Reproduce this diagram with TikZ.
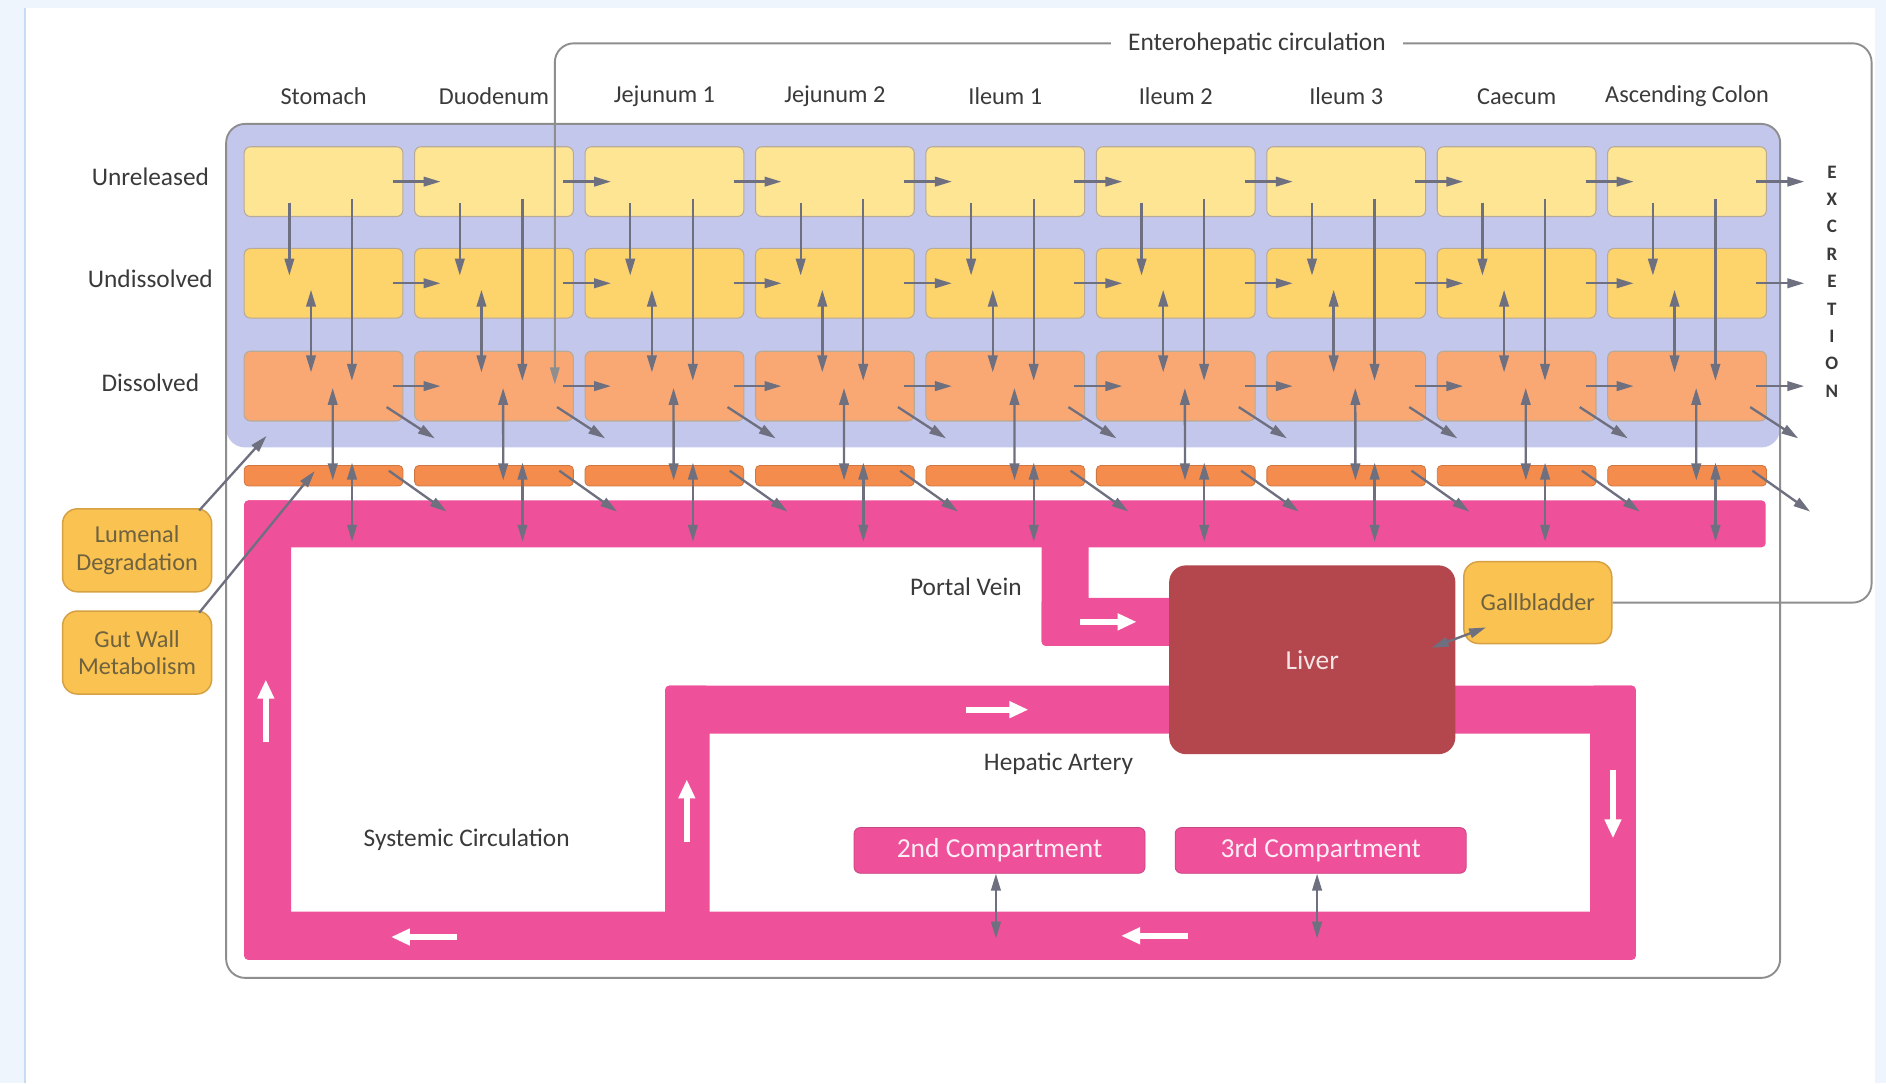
\documentclass[tikz,border=0pt]{standalone}
\usepackage{fontspec}
\setmainfont{Carlito}
\usetikzlibrary{arrows.meta, positioning, calc}
\definecolor{bgblue}{HTML}{EEF5FC}
\definecolor{edgeblue}{HTML}{C7DCF2}
\definecolor{lavender}{HTML}{C4C7EC}
\definecolor{unrel}{HTML}{FDE594}
\definecolor{undis}{HTML}{FDD36C}
\definecolor{dissol}{HTML}{F9A874}
\definecolor{gutw}{HTML}{F38C4C}
\definecolor{pinkc}{HTML}{EE519A}
\definecolor{liverc}{HTML}{B4474D}
\definecolor{goldc}{HTML}{FAC250}
\definecolor{goldline}{HTML}{D6A145}
\definecolor{boxline}{HTML}{B8AA98}
\definecolor{arrowgray}{HTML}{6E7080}
\definecolor{outline}{HTML}{8E8E8E}
\definecolor{txtgray}{HTML}{3A3A3A}
\definecolor{goldtext}{HTML}{6E6240}

\begin{document}
\begin{tikzpicture}[x=0.02cm, y=-0.02cm, font=\fontsize{12}{14}\selectfont, text=txtgray]
            \tikzset{box/.style = {draw=boxline, line width=0.5pt, rounded corners=3pt,
                                   minimum width=2.64cm, minimum height=1.16cm, inner sep=0pt},
                     wallbox/.style = {fill=gutw, draw=gutw!85!black, line width=0.4pt, rounded corners=2pt,
                                   minimum width=2.64cm, minimum height=0.34cm, inner sep=0pt},
                     goldbox/.style = {fill=goldc, draw=goldline, line width=0.7pt, rounded corners=7pt,
                                   minimum width=2.48cm, minimum height=1.38cm, align=center,
                                   text=goldtext, font=\fontsize{11.5}{13}\selectfont, inner sep=0pt},
                     compbox/.style = {fill=pinkc, draw=pinkc!85!black, line width=0.4pt, rounded corners=3pt,
                                   minimum width=4.84cm, minimum height=0.76cm, inner sep=0pt,
                                   text=white!90!pinkc, font=\fontsize{13}{15}\selectfont},
                     garrow/.style = {draw=arrowgray, line width=1.1pt, -{Triangle[length=8pt,width=4.5pt]}},
                     gdouble/.style = {draw=arrowgray, line width=1.1pt,
                                   {Triangle[length=8pt,width=4.5pt]}-{Triangle[length=8pt,width=4.5pt]}},
                     warrow/.style = {draw=white, line width=2.8pt, -{Triangle[length=9pt,width=7.5pt]}},
                     pipe/.style = {fill=pinkc, rounded corners=2pt},
                     entline/.style = {draw=outline, line width=0.9pt, rounded corners=9pt}}
            % background
            \fill[bgblue] (0,0) rectangle (1568,900);
            \fill[white] (22,7) rectangle (1559,900);
            \draw[edgeblue, line width=1pt] (21,7) -- (21,900);
            \useasboundingbox (0,0) rectangle (1568,900);
            \fill[lavender, rounded corners=9pt] (188,103) rectangle (1480,372);
            \draw[outline, line width=0.9pt, rounded corners=9pt] (188,103) rectangle (1480,813);
            % circulation
            \fill[pipe] (203,416) rectangle (1468,455);
            \fill[pipe] (203,416) rectangle (242,798);
            \fill[pipe] (203,758) rectangle (1360,798);
            \fill[pipe] (1322,570) rectangle (1360,798);
            \fill[pipe] (553,570) rectangle (1360,610);
            \fill[pipe] (553,570) rectangle (590,770);
            \fill[pipe] (866,440) rectangle (905,537);
            \fill[pipe] (866,497) rectangle (990,537);
            % compartments
            \foreach \name [count=\i] in {Stomach, Duodenum, Jejunum 1, Jejunum 2, Ileum 1,
                                          Ileum 2, Ileum 3, Caecum, Ascending Colon} {
                \pgfmathsetmacro{\cx}{269+141.7*(\i-1)}
                \node[font=\fontsize{11.5}{13}\selectfont] (h\i) at (\cx,80) {\name};
                \node[box, fill=unrel] (u\i) at (\cx,151) {};
                \node[box, fill=undis] (d\i) at (\cx,235.5) {};
                \node[box, fill=dissol] (s\i) at (\cx,321) {};
                \node[wallbox] (w\i) at (\cx,395.5) {};
            }
            \node[] (lu) at (125,147) {Unreleased};
            \node[] (ld) at (125,232) {Undissolved};
            \node[] (ls) at (125,318) {Dissolved};
            \foreach \l [count=\k] in {E,X,C,R,E,T,I,O,N}
                \node[font=\bfseries\fontsize{9}{10}\selectfont, inner sep=0pt] (ex\k) at (1523,{143+22.75*(\k-1)}) {\l};
            % transfer edges
            \foreach \i [evaluate=\i as \j using int(\i+1)] in {1,...,8} {
                \draw[garrow] ($(u\i.east)+(-9,0)$) to ($(u\j.west)+(22,0)$);
                \draw[garrow] ($(d\i.east)+(-9,0)$) to ($(d\j.west)+(22,0)$);
                \draw[garrow] ($(s\i.east)+(-9,0)$) to ($(s\j.west)+(22,0)$);
            }
            \coordinate (xu) at (1500,151);
            \coordinate (xd) at (1500,235.5);
            \coordinate (xs) at (1500,321);
            \draw[garrow] ($(u9.east)+(-9,0)$) to (xu);
            \draw[garrow] ($(d9.east)+(-9,0)$) to (xd);
            \draw[garrow] ($(s9.east)+(-9,0)$) to (xs);
            \foreach \i in {1,...,9} {
                \draw[garrow] ($(u\i.south west)+(38,-12)$) to ($(d\i.north west)+(38,23)$);
                \draw[garrow] ($(u\i.south west)+(90,-15)$) to ($(s\i.north west)+(90,25)$);
                \draw[gdouble] ($(d\i.south west)+(56,-24)$) to ($(s\i.north west)+(56,18)$);
                \draw[gdouble] ($(s\i.north west)+(74,31)$) to ($(w\i.south west)+(74,-5)$);
                \draw[gdouble] ($(w\i.north west)+(90,-2)$) to ($(w\i.south west)+(90,46)$);
                \draw[garrow] ($(s\i.south east)+(-14,-12)$) to ($(s\i.south east)+(26,14)$);
                \draw[garrow] ($(w\i.south east)+(-12,-13)$) to ($(w\i.south east)+(36,21)$);
            }
            % organs
            \node[goldbox] (lum) at (114,457.5) {Lumenal\\Degradation};
            \node[goldbox] (gwm) at (114,542.5) {Gut Wall\\Metabolism};
            \node[fill=liverc, rounded corners=8pt, minimum width=4.76cm, minimum height=3.14cm,
                  text=white!85!liverc, font=\fontsize{13}{15}\selectfont] (liver) at (1091,548.5) {Liver};
            \node[goldbox, minimum width=2.46cm, minimum height=1.36cm] (gb) at (1278.5,501) {Gallbladder};
            \node[compbox] (c2) at (831,707) {2nd Compartment};
            \node[compbox] (c3) at (1098,707) {3rd Compartment};
            \node[] (pv) at (803,488) {Portal Vein};
            \node[] (ha) at (880,635) {Hepatic Artery};
            \node[] (sc) at (388,698) {Systemic Circulation};
            \node[inner xsep=8pt] (ent) at (1045,36) {Enterohepatic circulation};
            %edges
            \draw[garrow] ($(lum.north east)+(-11,2)$) to ($(s1.south west)+(19,12)$);
            \draw[garrow] ($(gwm.north east)+(-11,2)$) to ($(w1.north west)+(59,5)$);
            \draw[gdouble] ($(gb.south west)+(19,-14)$) to ($(liver.east)+(-20,-10)$);
            \draw[gdouble] ($(c2.south)+(-3,0)$) to ($(c2.south)+(-3,54)$);
            \draw[gdouble] ($(c3.south)+(-3,0)$) to ($(c3.south)+(-3,54)$);
            \coordinate (entend) at ($(s2.north west)+(117,28)$);
            \draw[entline] (gb.east) -- (1556,501) |- (ent.east);
            \draw[entline, -{Triangle[length=8pt,width=4.5pt]}] (ent.west) -| (entend);
            % flow direction
            \draw[warrow] (221,617) -- (221,565);
            \draw[warrow] (380,779) -- (325,779);
            \draw[warrow] (988,778) -- (932,778);
            \draw[warrow] (571,700) -- (571,648);
            \draw[warrow] (803,590) -- (855,590);
            \draw[warrow] (898,517) -- (945,517);
            \draw[warrow] (1341,640) -- (1341,697);
\end{tikzpicture}
\end{document}
